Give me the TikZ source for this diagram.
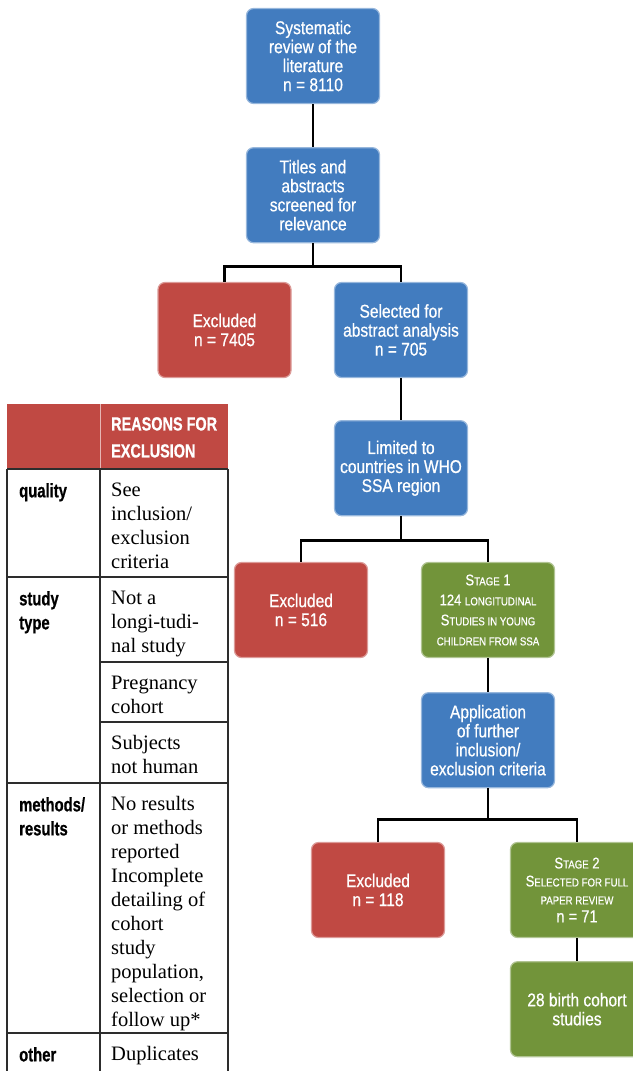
\documentclass[tikz,border=0pt]{standalone}
\usepackage{fontspec}
\setmainfont{Liberation Serif}
\newfontfamily\boxfont[FakeStretch=0.84,FakeBold=0.6]{Liberation Sans}
\newfontfamily\tabfont[FakeStretch=0.76,FakeBold=0.7]{Liberation Sans Bold}
\usetikzlibrary{positioning}
\definecolor{boxblue}{RGB}{66,124,191}
\definecolor{boxred}{RGB}{192,73,67}
\definecolor{boxgreen}{RGB}{114,148,58}
\definecolor{rulegray}{RGB}{45,45,45}
\newcommand{\smc}[1]{{\fontsize{11.5}{11.5}\selectfont\MakeUppercase{#1}}}

\begin{document}
\begin{tikzpicture}[x=1pt,y=1pt,node distance=43pt,
	main node/.style={rectangle,rounded corners=7pt,minimum width=133pt,minimum height=95pt,inner sep=2pt,align=center,text=white,line width=1.2pt,font=\boxfont\fontsize{18.5}{19}\selectfont},
	blue node/.style={main node,fill=boxblue,draw=boxblue!55!white},
	red node/.style={main node,fill=boxred,draw=boxred!55!white},
	green node/.style={main node,fill=boxgreen,draw=boxgreen!55!white},
	link/.style={line width=2.6pt},
	rule/.style={draw=rulegray,line width=1.3pt},
	left cell/.style={anchor=north west,inner sep=0pt,align=left,font=\tabfont\fontsize{19.5}{24}\selectfont},
	right cell/.style={anchor=north west,inner sep=0pt,align=left,font=\fontsize{20.5}{24}\selectfont}]
	\useasboundingbox (0,0) rectangle (632,-1071);
	\node[blue node] (1) at (313,-56) {Systematic\\review of the\\literature\\n = 8110};
	\node[blue node] (2) [below=of 1] {Titles and\\abstracts\\screened for\\relevance};
	\node[red node] (3) at (224.5,-330) {Excluded\\n = 7405};
	\node[blue node] (4) at (401,-330) {Selected for\\abstract analysis\\n = 705};
	\node[blue node] (5) [below=42pt of 4] {Limited to\\countries in WHO\\SSA region};
	\node[red node] (6) at (301,-610) {Excluded\\n = 516};
	\node[green node,font=\boxfont\fontsize{15.5}{20}\selectfont] (7) at (488,-610) {S\smc{tage} 1\\124 \smc{longitudinal}\\S\smc{tudies in young}\\\smc{children from SSA}};
	\node[blue node] (8) [below=34pt of 7] {Application\\of further\\inclusion/\\exclusion criteria};
	\node[red node] (9) at (378,-890) {Excluded\\n = 118};
	\node[green node,font=\boxfont\fontsize{15.5}{18}\selectfont] (10) at (577,-890) {S\smc{tage} 2\\S\smc{elected for full}\\\smc{paper review}\\{\fontsize{17.5}{18}\selectfont n = 71}};
	\node[green node] (11) [below=23pt of 10] {28 birth cohort\\studies};
	\draw[link] (1) -- (2);
	\draw[link] (2.south) -- ++(0,-23) -| (3.north);
	\draw[link] (2.south) ++(0,-23) -| (4.north);
	\draw[link] (4) -- (5);
	\draw[link] (5.south) -- ++(0,-24) -| (6.north);
	\draw[link] (5.south) ++(0,-24) -| (7.north);
	\draw[link] (7) -- (8);
	\draw[link] (8.south) -- ++(0,-31) -| (9.north);
	\draw[link] (8.south) ++(0,-31) -| (10.north);
	\draw[link] (10) -- (11);
	% table of reasons
	\fill[boxred] (7,-404) rectangle (228,-469);
	\draw[boxred!40!white,line width=1pt] (100,-404) -- (100,-469);
	\draw[rule] (7,-469) -- (228,-469) (7,-577) -- (228,-577) (7,-783) -- (228,-783) (7,-1033) -- (228,-1033)
		(100,-662) -- (228,-662) (100,-722) -- (228,-722)
		(7,-469) -- (7,-1071) (100,-469) -- (100,-1071) (228,-469) -- (228,-1071);
	\node[left cell,text=white,font=\tabfont\fontsize{19}{27}\selectfont] (t0) at (111,-417) {REASONS FOR\\EXCLUSION};
	\node[left cell] (t1) at (19,-483) {quality};
	\node[right cell] (t2) at (111,-482.5) {See\\inclusion/\\exclusion\\criteria};
	\node[left cell] (t3) at (19,-591) {study\\type};
	\node[right cell] (t4) at (111,-590.5) {Not a\\longi-tudi-\\nal study};
	\node[right cell] (t5) at (111,-675.5) {Pregnancy\\cohort};
	\node[right cell] (t6) at (111,-735.5) {Subjects\\not human};
	\node[left cell] (t7) at (19,-797) {methods/\\results};
	\node[right cell] (t8) at (111,-796.5) {No results\\or methods\\reported\\Incomplete\\detailing of\\cohort\\study\\population,\\selection or\\follow up*};
	\node[left cell] (t9) at (19,-1047) {other};
	\node[right cell] (t10) at (111,-1046.5) {Duplicates};
\end{tikzpicture}
\end{document}
